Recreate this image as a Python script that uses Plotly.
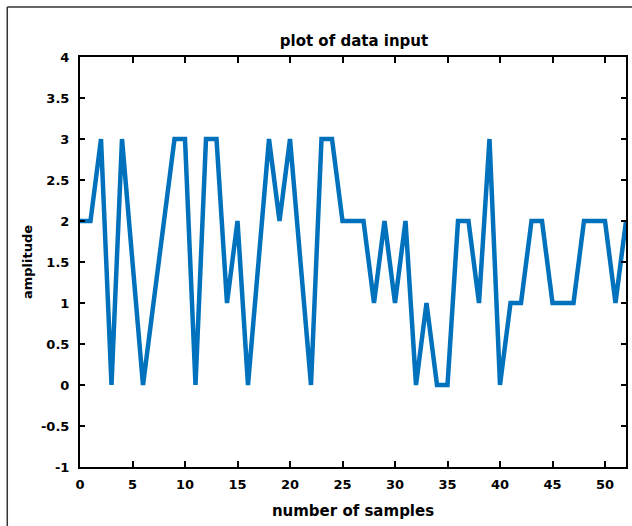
import plotly.graph_objects as go

samples = list(range(0, 53))
amplitude = [2, 2, 3, 0, 3, 1.5, 0, 1, 2, 3,
             3, 0, 3, 3, 1, 2, 0, 1.5, 3, 2,
             3, 1.5, 0, 3, 3, 2, 2, 2, 1, 2,
             1, 2, 0, 1, 0, 0, 2, 2, 1, 3,
             0, 1, 1, 2, 2, 1, 1, 1, 2, 2,
             2, 1, 2]
x_ticks = [0, 5, 10, 15, 20, 25, 30, 35, 40, 45, 50]
y_ticks = [-1, -0.5, 0, 0.5, 1, 1.5, 2, 2.5, 3, 3.5, 4]
y_tick_text = ["-1", "-0.5", "0", "0.5", "1", "1.5", "2", "2.5", "3", "3.5", "4"]

W, H = 632, 526
L, R, T, B = 80, 4, 57, 59
pw, ph = W - L - R, H - T - B

FAM = "DejaVu Sans, Liberation Sans, Arial, sans-serif"

fig = go.Figure()
fig.add_trace(go.Scatter(x=samples, y=amplitude, mode="lines",
                         line=dict(color="#0072BD", width=4.5), showlegend=False))

fig.update_layout(
    width=W, height=H,
    margin=dict(l=L, r=R, t=T, b=B),
    paper_bgcolor="white", plot_bgcolor="white",
    font=dict(family=FAM, size=13, color="black"),
    title=dict(text="<b>plot of data input</b>", x=(L + pw / 2) / W, xanchor="center",
               y=1 - 41 / H, yanchor="middle", font=dict(size=15)),
)
axis_common = dict(ticks="inside", tickcolor="black", tickwidth=1.5,
                   showline=True, linecolor="black", linewidth=2, mirror="ticks",
                   showgrid=False, zeroline=False, tickfont=dict(size=13))
fig.update_xaxes(range=[0, 52], tickvals=x_ticks, ticktext=[f"<b>{v}</b>" for v in x_ticks],
                 ticklen=6, ticklabelstandoff=4,
                 title=dict(text="<b>number of samples</b>", font=dict(size=15), standoff=15),
                 **axis_common)
fig.update_yaxes(range=[-1, 4], tickvals=y_ticks, ticktext=[f"<b>{t}</b>" for t in y_tick_text],
                 ticklen=5, ticklabelstandoff=6,
                 title=dict(text="<b>amplitude</b>", font=dict(size=13), standoff=5),
                 **axis_common)

# outer frame (left and top edges visible)
fx = (7 - L) / pw
fy = (H - B - 7) / ph
fig.add_shape(type="line", xref="paper", yref="paper", x0=fx, x1=fx, y0=-0.3, y1=fy,
              line=dict(color="#333333", width=1.5))
fig.add_shape(type="line", xref="paper", yref="paper", x0=fx, x1=1.05, y0=fy, y1=fy,
              line=dict(color="#333333", width=1.5))

fig.write_html("out.html", config={"displayModeBar": False},
               post_script="document.body.style.margin='0';document.body.style.overflow='hidden';")
